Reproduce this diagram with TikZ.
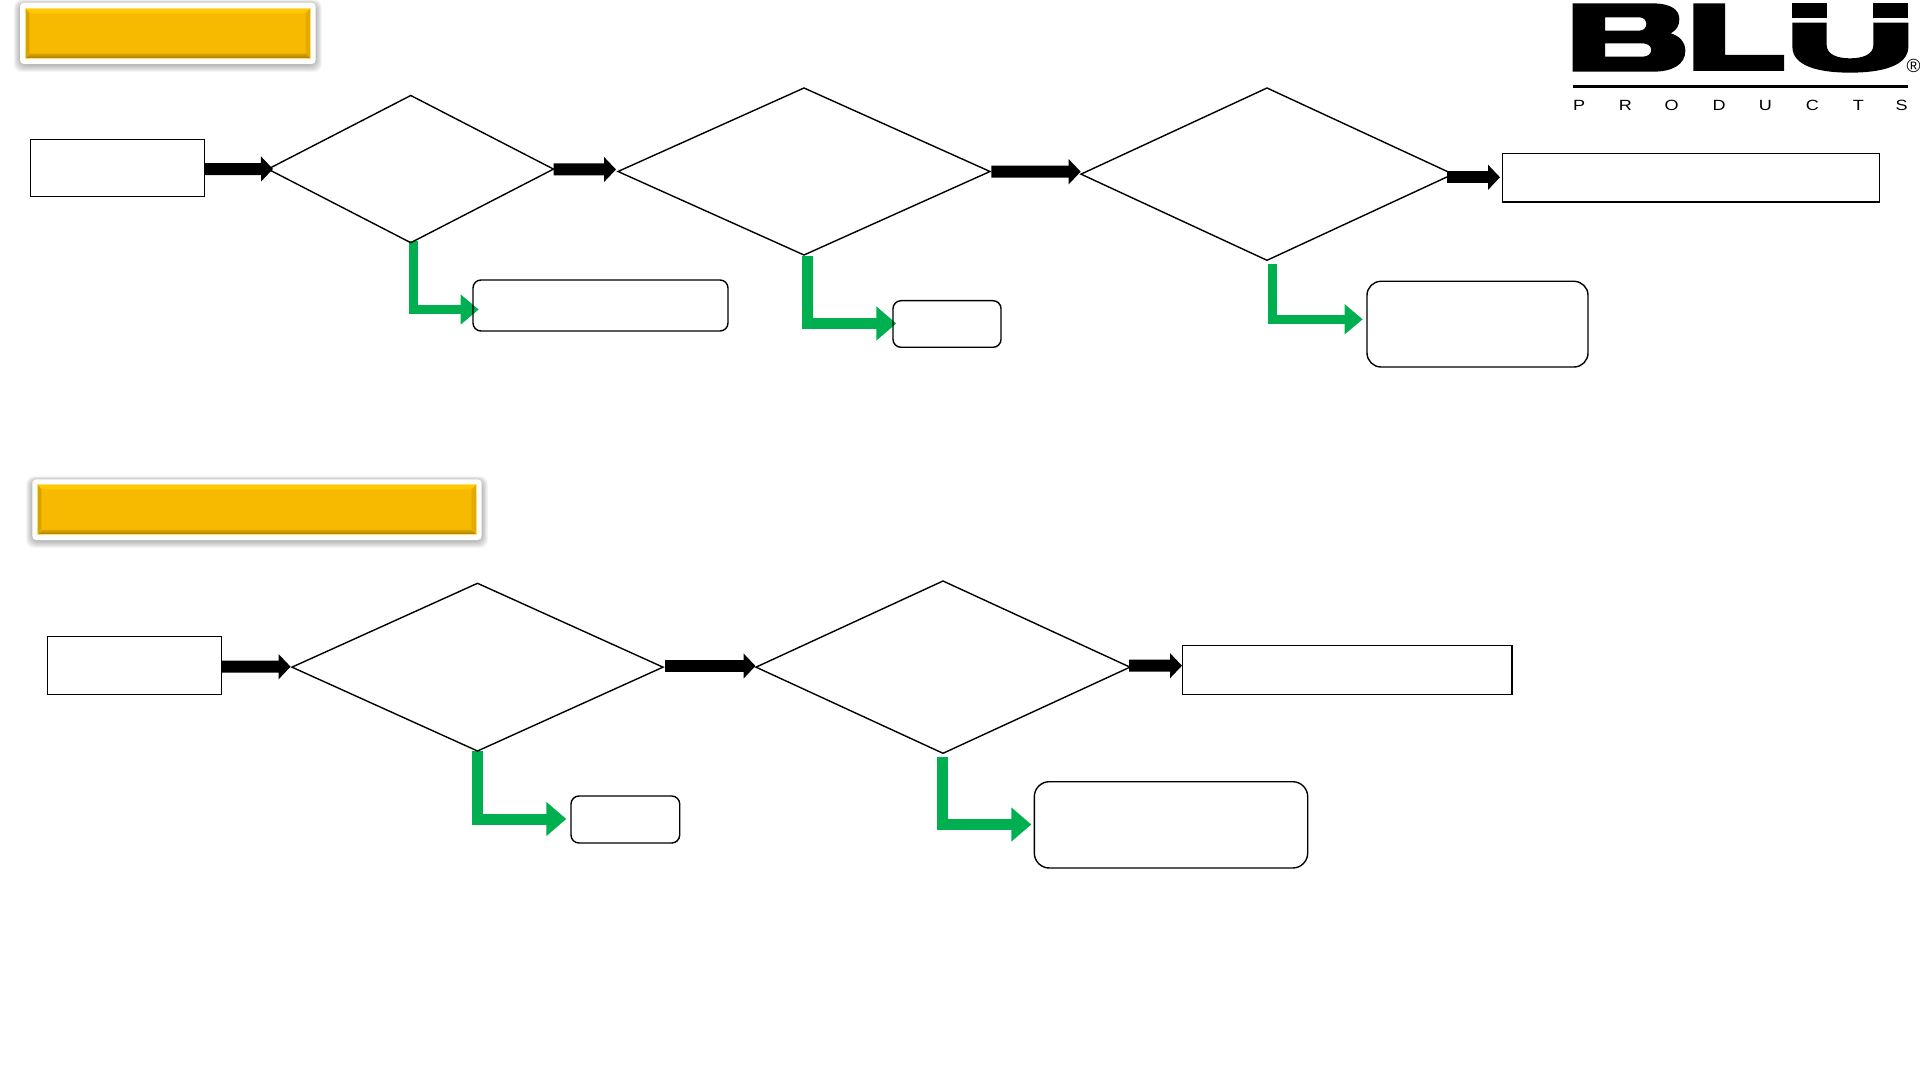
\documentclass[tikz,border=0pt]{standalone}
\usepackage{fontspec}
\setmainfont{Liberation Sans}
\usetikzlibrary{shapes.geometric,arrows.meta,backgrounds}
\definecolor{goldmain}{HTML}{F7BA00}
\definecolor{goldtop}{HTML}{FFCB00}
\definecolor{goldbot}{HTML}{A37A00}
\definecolor{goldleft}{HTML}{D8A300}
\definecolor{goldright}{HTML}{E3AB00}
\definecolor{goldedge}{HTML}{FFDD70}
\definecolor{flowgreen}{HTML}{00B050}
\tikzset{
  flowbase/.style={draw=black,line width=0.7pt,inner sep=0pt,outer sep=0pt},
  plainbox/.style={flowbase,rectangle},
  softbox/.style={flowbase,rectangle,rounded corners=#1},
  choice/.style={flowbase,diamond},
  blackflow/.style={draw=black,line width=6pt,-{Triangle[length=6pt,width=12.25pt]}},
  greenflow/.style={draw=flowgreen,line width=5.5pt,-{Triangle[length=10pt,width=16.5pt]}},
  greenthin/.style={draw=flowgreen,line width=4.6pt,-{Triangle[length=9pt,width=14.5pt]}},
  logoletter/.style={font=\fontsize{7.4}{8}\selectfont,inner sep=0pt,outer sep=0pt,xscale=1.22,text=black},
}
% node from its box: name, style, x1, y1, x2, y2 (reference pixels)
\newcommand{\flownode}[6]{\node[#2,minimum width={(#5-(#3))*0.5pt},minimum height={(#6-(#4))*0.5pt}] (#1) at ({(#3+#5)/2},{(#4+#6)/2}) {};}
\newcommand{\goldbanner}[8]{%
  % frame x1 y1 x2 y2, gold x1 y1 x2 y2
  \foreach \g in {9,8,7,6,5,4,3,2,1}{
    \fill[black,opacity=0.03,rounded corners=4] ({#1-\g*0.7},{#2+1-\g*0.45}) rectangle ({#3+\g*0.7},{#4+1+\g*0.8});
  }
  \fill[white,rounded corners=2] (#1,#2) rectangle (#3,#4);
  \fill[goldmain] (#5,#6) rectangle (#7,#8);
  \fill[goldtop] (#5,#6) -- (#7,#6) -- ({#7-5},{#6+5}) -- ({#5+5},{#6+5}) -- cycle;
  \shade[bottom color=goldbot,top color=goldmain!70!goldbot] (#5,#8) -- (#7,#8) -- ({#7-5},{#8-5}) -- ({#5+5},{#8-5}) -- cycle;
  \fill[goldleft] (#5,#6) -- ({#5+4},{#6+5}) -- ({#5+4},{#8-5}) -- (#5,#8) -- cycle;
  \fill[goldright] (#7,#6) -- ({#7-5},{#6+5}) -- ({#7-5},{#8-5}) -- (#7,#8) -- cycle;
  \draw[goldedge,line width=0.3pt] (#5,#6) rectangle (#7,#8);
}
\begin{document}
\begin{tikzpicture}[x=0.5pt,y=-0.5pt]
\useasboundingbox (0,0) rectangle (1920,1080);
\begin{scope}[on background layer]
  \fill[white] (0,0) rectangle (1920,1080);
\end{scope}

% banners
\goldbanner{20}{2.7}{315.7}{64}{25.3}{8.3}{310.7}{58.3}
\goldbanner{32.3}{479.3}{481.7}{540}{37.3}{484.3}{476.7}{534.7}

% upper row
\flownode{b1}{plainbox}{30.4}{139.4}{204.2}{196.8}
\flownode{d1}{choice}{268}{95.5}{553.5}{242.7}
\flownode{d2}{choice}{618}{88}{990}{255}
\flownode{d3}{choice}{1081}{88}{1453}{260.3}
\flownode{rt1}{plainbox}{1502.7}{153.3}{1879.5}{202}
\flownode{r1}{softbox=4pt}{473}{280}{728}{331}
\flownode{r2}{softbox=4pt}{893}{300.7}{1001}{347.3}
\flownode{r3}{softbox=7pt}{1367}{281.3}{1588}{367}

% lower row
\flownode{b2}{plainbox}{47.5}{636.5}{221.5}{694.5}
\flownode{d4}{choice}{292}{583.3}{663}{751}
\flownode{d5}{choice}{756}{581}{1130}{753.3}
\flownode{rt2}{plainbox}{1182.7}{645.3}{1512}{694.3}
\flownode{r4}{softbox=4pt}{571}{796}{679.7}{843}
\flownode{r5}{softbox=7.5pt}{1034.3}{781.7}{1307.7}{868}

% green connectors sit under the box outlines
\begin{scope}[on background layer]
  \draw[greenthin] ([shift={(2.75,-1.2)}]d1.south) |- ([shift={(5.7,4)}]r1.west);
  \draw[greenflow] ([shift={(3.5,0.7)}]d2.south) |- ([shift={(3.3,-0.5)}]r2.west);
  \draw[greenthin] ([shift={(5.3,3.7)}]d3.south) |- ([shift={(-4.3,-4.85)}]r3.west);
  \draw[greenflow] ([shift={(0,-0.3)}]d4.south) |- ([shift={(-4.7,-0.5)}]r4.west);
  \draw[greenflow] ([shift={(-0.5,3.7)}]d5.south) |- ([shift={(-3,-0.35)}]r5.west);
\end{scope}

% black connectors
\draw[blackflow] ([shift={(0,1)}]b1.east) -- ([shift={(5,-0.1)}]d1.west);
\draw[blackflow] ([shift={(0,0.4)}]d1.east) -- ([shift={(-2,-2)}]d2.west);
\draw[blackflow] ([shift={(1.3,0.2)}]d2.east) -- ([shift={(-0.3,-2.45)}]d3.west);
\draw[blackflow] ([shift={(-5.7,3.15)}]d3.east) -- ([shift={(-2.7,-0.35)}]rt1.west);
\draw[blackflow] ([shift={(0,1.2)}]b2.east) -- ([shift={(-1.4,-0.45)}]d4.west);
\draw[blackflow] ([shift={(2,-1.15)}]d4.east) -- ([shift={(-0.5,-1.15)}]d5.west);
\draw[blackflow] ([shift={(-1,-1.45)}]d5.east) -- ([shift={(-0.7,-4.1)}]rt2.west);

% logo
\begin{scope}[shift={(1540,0)},x=0.16667pt,y=-0.16667pt]
  \fill[black,even odd rule]
    (98,10) -- (335,10) .. controls (395,10) and (418,30) .. (418,58)
    .. controls (418,78) and (408,92) .. (392,100)
    .. controls (420,108) and (436,128) .. (436,152)
    .. controls (436,195) and (395,215) .. (340,215) -- (98,215) -- cycle
    (195,52) -- (298,52) .. controls (326,52) and (326,92) .. (298,92) -- (195,92) -- cycle
    (195,130) -- (308,130) .. controls (342,130) and (342,170) .. (308,170) -- (195,170) -- cycle;
  \fill[black] (460,10) -- (555,10) -- (555,165) -- (732,165) -- (732,213) -- (460,213) -- cycle;
  \fill[black] (757,10) rectangle (860,55);
  \fill[black] (1000,10) rectangle (1105,55);
  \fill[black] (757,68) -- (860,68) -- (860,135)
    .. controls (860,165) and (895,175) .. (930,175)
    .. controls (965,175) and (1000,165) .. (1000,135)
    -- (1000,68) -- (1105,68) -- (1105,140)
    .. controls (1105,200) and (1020,218) .. (930,218)
    .. controls (840,218) and (757,200) .. (757,140) -- cycle;
  \fill[black] (98,255) rectangle (1105,265);
  \node[logoletter] (lp) at (117,315) {P};
  \node[logoletter] (lr) at (256,315) {R};
  \node[logoletter] (lo) at (395,315) {O};
  \node[logoletter] (ld) at (537,315) {D};
  \node[logoletter] (lu) at (676,315) {U};
  \node[logoletter] (lc) at (817,315) {C};
  \node[logoletter] (lt) at (955,315) {T};
  \node[logoletter] (ls) at (1085,315) {S};
  \node[inner sep=0pt,font=\fontsize{9.5}{10}\selectfont] (lreg) at (1121,197) {®};
\end{scope}
\end{tikzpicture}
\end{document}
